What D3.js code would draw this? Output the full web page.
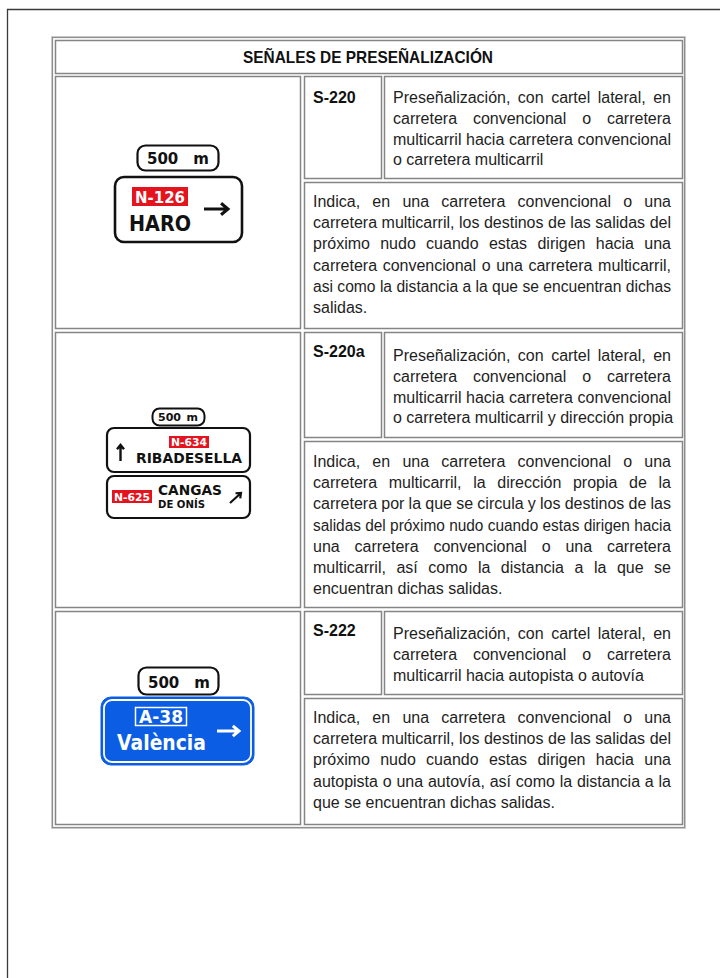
<!DOCTYPE html>
<html><head><meta charset="utf-8">
<script src="https://cdn.jsdelivr.net/npm/d3@7"></script>
<style>
html,body{margin:0;padding:0;background:#fff;}
svg{display:block;}
.body{font-family:"Liberation Sans",Arial,sans-serif;font-size:16px;fill:#1e1e1e;}
.code{font-family:"Liberation Sans",Arial,sans-serif;font-size:16px;font-weight:bold;fill:#111;}
.title{font-family:"Liberation Sans",Arial,sans-serif;font-size:17px;font-weight:bold;fill:#111;}
.sg{font-family:"DejaVu Sans",sans-serif;font-weight:bold;}
</style></head>
<body>
<script>
// ---------- data ----------
const title = "SEÑALES DE PRESEÑALIZACIÓN";
const codes = ["S-220", "S-220a", "S-222"];
const shortDesc = [
  ["Preseñalización, con cartel lateral, en", "carretera convencional o carretera", "multicarril hacia carretera convencional", "o carretera multicarril"],
  ["Preseñalización, con cartel lateral, en", "carretera convencional o carretera", "multicarril hacia carretera convencional", "o carretera multicarril y dirección propia"],
  ["Preseñalización, con cartel lateral, en", "carretera convencional o carretera", "multicarril hacia autopista o autovía"]
];
const longDesc = [
  ["Indica, en una carretera convencional o una", "carretera multicarril, los destinos de las salidas del", "próximo nudo cuando estas dirigen hacia una", "carretera convencional o una carretera multicarril,", "asi como la distancia a la que se encuentran dichas", "salidas."],
  ["Indica, en una carretera convencional o una", "carretera multicarril, la dirección propia de la", "carretera por la que se circula y los destinos de las", "salidas del próximo nudo cuando estas dirigen hacia", "una carretera convencional o una carretera", "multicarril, así como la distancia a la que se", "encuentran dichas salidas."],
  ["Indica, en una carretera convencional o una", "carretera multicarril, los destinos de las salidas del", "próximo nudo cuando estas dirigen hacia una", "autopista o una autovía, así como la distancia a la", "que se encuentran dichas salidas."]
];
const distanceLabel = ["500", "m"];
const sign1Road = "N-126", sign1Dest = "HARO";
const sign2Roads = ["N-634", "N-625"], sign2Dest = ["RIBADESELLA", "CANGAS", "DE ONÍS"];
const sign3Road = "A-38", sign3Dest = "València";

// ---------- layout ----------
const W = 720, H = 978;
const rows = [
  {top: 76, codeBottom: 178, longTop: 182, bottom: 328, codeY: 103, descY: 103, longY: 207},
  {top: 332, codeBottom: 437, longTop: 441, bottom: 607, codeY: 357, descY: 361, longY: 467},
  {top: 611, codeBottom: 694, longTop: 698, bottom: 824, codeY: 636, descY: 639, longY: 723}
];
const colX = {left0: 55, left1: 300, code0: 304, code1: 381, desc0: 384, desc1: 682};

const svg = d3.select("body").append("svg").attr("width", W).attr("height", H);

// page frame
svg.append("path").attr("d", `M7.5,${H} V9.5 H${W}`).attr("fill", "none").attr("stroke", "#3a3a3a").attr("stroke-width", 1.3);

// outer table
svg.append("rect").attr("x", 51.5).attr("y", 36.5).attr("width", 634).attr("height", 792).attr("fill", "none").attr("stroke", "#cfcfcf").attr("stroke-width", 1);
svg.append("rect").attr("x", 52.5).attr("y", 37.5).attr("width", 632).attr("height", 790).attr("fill", "none").attr("stroke", "#8e8e8e").attr("stroke-width", 1.2);

function cell(x0, y0, x1, y1) {
  svg.append("rect").attr("x", x0 + 0.5).attr("y", y0 + 0.5).attr("width", x1 - x0).attr("height", y1 - y0)
    .attr("fill", "none").attr("stroke", "#858585").attr("stroke-width", 1.5);
}
cell(55, 40, 682, 73);
svg.append("text").attr("class", "title").attr("x", 243).attr("y", 63)
  .attr("textLength", 250).attr("lengthAdjust", "spacingAndGlyphs").text(title);

const spaceW = 16 * 0.278;
function justify(lines, x0, width, y0, lh) {
  lines.forEach((line, i) => {
    const last = i === lines.length - 1;
    const words = line.split(" ");
    const t = svg.append("text").attr("class", "body").attr("y", y0 + i * lh);
    const spans = words.map(w => t.append("tspan").text(w));
    const widths = spans.map(s => s.node().getComputedTextLength());
    const total = d3.sum(widths);
    if (!last && total + (words.length - 1) * spaceW * 0.9 > width) {
      t.selectAll("tspan").remove();
      t.attr("x", x0).text(line).attr("textLength", width).attr("lengthAdjust", "spacingAndGlyphs");
      return;
    }
    const gap = (last || words.length < 2) ? spaceW : (width - total) / (words.length - 1);
    let x = x0;
    spans.forEach((s, j) => { s.attr("x", x); x += widths[j] + gap; });
  });
}

rows.forEach((r, i) => {
  cell(colX.left0, r.top, colX.left1, r.bottom);
  cell(colX.code0, r.top, colX.code1, r.codeBottom);
  cell(colX.desc0, r.top, colX.desc1, r.codeBottom);
  cell(colX.code0, r.longTop, colX.desc1, r.bottom);
  svg.append("text").attr("class", "code").attr("x", 313).attr("y", r.codeY).text(codes[i]);
  justify(shortDesc[i], 393, 278, r.descY, 20.8);
  justify(longDesc[i], 313, 358, r.longY, 21.2);
});

// ---------- signs ----------
function rr(x0, y0, x1, y1, rx, fill, stroke, sw) {
  return svg.append("rect").attr("x", x0).attr("y", y0).attr("width", x1 - x0).attr("height", y1 - y0)
    .attr("rx", rx).attr("fill", fill).attr("stroke", stroke).attr("stroke-width", sw);
}
function txt(s, x, y, size, fill, len) {
  const t = svg.append("text").attr("class", "sg").attr("x", x).attr("y", y).attr("font-size", size).attr("fill", fill).text(s);
  if (len) t.attr("textLength", len).attr("lengthAdjust", "spacingAndGlyphs");
  return t;
}
function dist(x0, x1, y, size) {
  txt(distanceLabel[0], x0, y, size, INK);
  txt(distanceLabel[1], x1, y, size, INK).attr("text-anchor", "end");
}
function arrow(x1, y1, x2, y2, head, color, sw) {
  const a = Math.atan2(y2 - y1, x2 - x1);
  const p = d3.path();
  p.moveTo(x1, y1); p.lineTo(x2 - Math.cos(a) * 1.5, y2 - Math.sin(a) * 1.5);
  const h1 = a + Math.PI * 0.78, h2 = a - Math.PI * 0.78;
  p.moveTo(x2 + Math.cos(h1) * head, y2 + Math.sin(h1) * head);
  p.lineTo(x2, y2);
  p.lineTo(x2 + Math.cos(h2) * head, y2 + Math.sin(h2) * head);
  svg.append("path").attr("d", p.toString()).attr("fill", "none").attr("stroke", color)
    .attr("stroke-width", sw).attr("stroke-linejoin", "miter").attr("stroke-linecap", "butt");
}
const RED = "#e5131d", BLUE = "#0b5de4", INK = "#111";

// sign 1
rr(137.5, 145.5, 218.5, 170.5, 8, "#fff", INK, 2.2);
dist(147, 209, 164, 15);
rr(115, 177, 242, 242, 9, "#fff", INK, 2.6);
svg.append("rect").attr("x", 132).attr("y", 187).attr("width", 56).attr("height", 19).attr("fill", RED);
txt(sign1Road, 135, 203, 16.5, "#fff", 50);
txt(sign1Dest, 129, 231, 22, INK, 62);
arrow(204, 209, 228, 209, 9, INK, 3);

// sign 2
rr(152.5, 408.5, 204.5, 425.5, 7, "#fff", INK, 2);
dist(158, 198, 421, 11);
rr(107, 428, 250, 472, 7, "#fff", INK, 2.2);
svg.append("rect").attr("x", 169).attr("y", 436).attr("width", 40).attr("height", 12).attr("fill", RED);
txt(sign2Roads[0], 171, 446, 11, "#fff", 36);
arrow(120.5, 461, 120.5, 445, 5.5, INK, 2.4);
txt(sign2Dest[0], 136, 463, 14, INK, 106);
rr(107, 476, 250, 518, 7, "#fff", INK, 2.2);
svg.append("rect").attr("x", 112).attr("y", 490).attr("width", 40).attr("height", 13).attr("fill", RED);
txt(sign2Roads[1], 114, 501, 11, "#fff", 36);
txt(sign2Dest[1], 158, 495, 14, INK, 64);
txt(sign2Dest[2], 158, 508, 11, INK, 47);
arrow(230, 503, 241, 493, 5.5, INK, 2.2);

// sign 3
rr(138.5, 667.5, 218.5, 694.5, 8, "#fff", INK, 2.2);
dist(148, 210, 688, 15);
rr(101, 697, 254, 765, 10, BLUE, BLUE, 1);
rr(104, 700, 251, 762, 8, "none", "#fff", 1.8);
svg.append("rect").attr("x", 135.5).attr("y", 707.5).attr("width", 51).attr("height", 18).attr("fill", "none").attr("stroke", "#fff").attr("stroke-width", 1.5);
txt(sign3Road, 139, 723, 17.5, "#fff", 44);
txt(sign3Dest, 117, 750, 22, "#fff", 89);
arrow(217, 731, 239, 731, 8, "#fff", 3);
</script>
</body></html>
